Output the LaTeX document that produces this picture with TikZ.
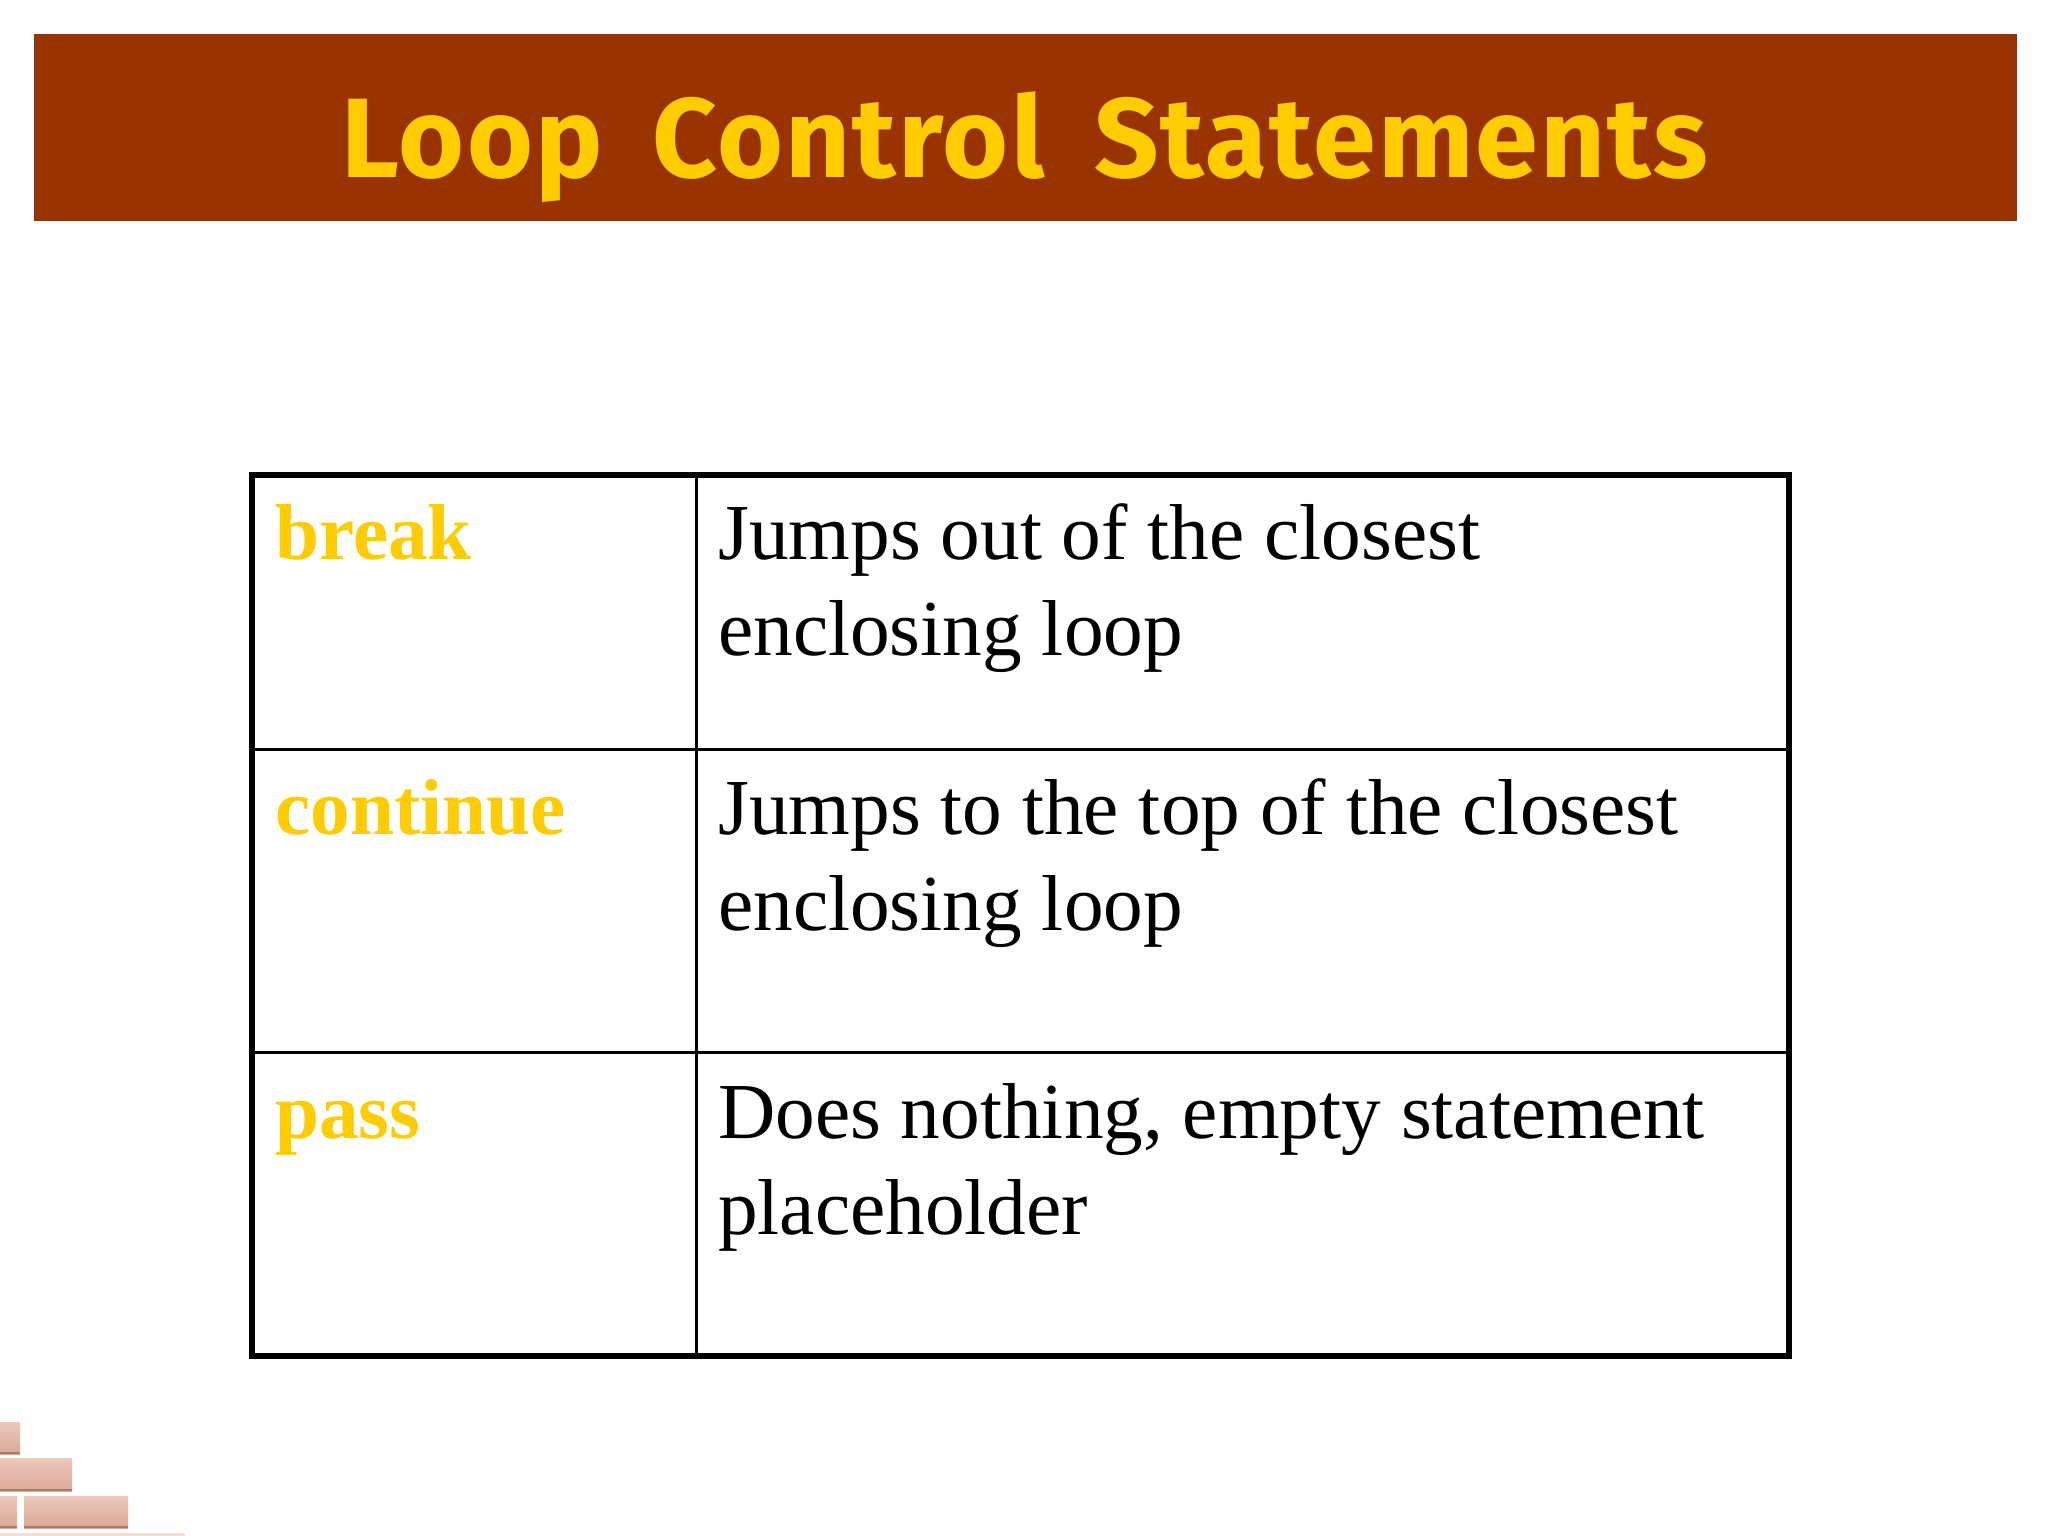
\documentclass[tikz,border=0pt]{standalone}
\usepackage{fontspec}
\setmainfont{Liberation Serif}
\newfontfamily\titlefont[LetterSpace=2,WordSpace=1.7]{Fira Sans}
\definecolor{banner}{HTML}{993300}
\definecolor{gold}{HTML}{FFCC00}
\definecolor{brickA}{HTML}{EBC9BC}
\definecolor{brickB}{HTML}{DDA898}
\definecolor{brickEdge}{HTML}{A87C68}
\tikzset{
  title text/.style={text=gold,font=\titlefont\bfseries\fontsize{113}{113}\selectfont,inner sep=0pt,anchor=base},
  keyword/.style={text=gold,font=\bfseries\fontsize{79.3}{96}\selectfont,inner sep=0pt,anchor=base west},
  description/.style={text=black,font=\fontsize{79.3}{96}\selectfont,inner sep=0pt,anchor=base west,align=left},
  outer rule/.style={line width=6.5pt,draw=black},
  inner rule/.style={line width=3pt,draw=black},
  brick/.style={top color=brickA,bottom color=brickB,draw=none},
  brick edge/.style={line width=2pt,draw=brickEdge},
}
\begin{document}
\begin{tikzpicture}[x=1pt,y=-1pt]
\useasboundingbox (0,0) rectangle (2048,1536);
\fill[white] (0,0) rectangle (2048,1536);
\fill[banner] (34,34) rectangle (2017,221);
\node[title text] (title) at (1025,178) {Loop Control Statements};
% table rules
\coordinate (tl) at (252,475);
\coordinate (tr) at (1789,475);
\coordinate (bl) at (252,1356);
\coordinate (br) at (1789,1356);
\draw[inner rule] (252,749) -- (1789,749);
\draw[inner rule] (252,1052) -- (1789,1052);
\draw[inner rule] (696,475) -- (696,1356);
\draw[outer rule] (tl) -- (tr) -- (br) -- (bl) -- cycle;
% cells
\node[keyword] (k1) at (275,559) {break};
\node[keyword] (k2) at (275,834) {continue};
\node[keyword] (k3) at (275,1138) {pass};
\node[description] (d1) at (718,655) {Jumps out of the closest\\enclosing loop};
\node[description] (d2) at (718,930) {Jumps to the top of the closest\\enclosing loop};
\node[description] (d3) at (718,1234) {Does nothing, empty statement\\placeholder};
% bricks
\fill[brick] (0,1422) rectangle (20,1454);
\draw[brick edge] (0,1453) -- (20,1453);
\fill[brick] (0,1458) rectangle (72,1491);
\draw[brick edge] (0,1490) -- (72,1490);
\fill[brick] (0,1496) rectangle (17,1528);
\draw[brick edge] (0,1527) -- (17,1527);
\fill[brick] (24,1496) rectangle (128,1528);
\draw[brick edge] (24,1527) -- (128,1527);
\fill[brickA!60!white] (0,1533) rectangle (185,1536);
\end{tikzpicture}
\end{document}
